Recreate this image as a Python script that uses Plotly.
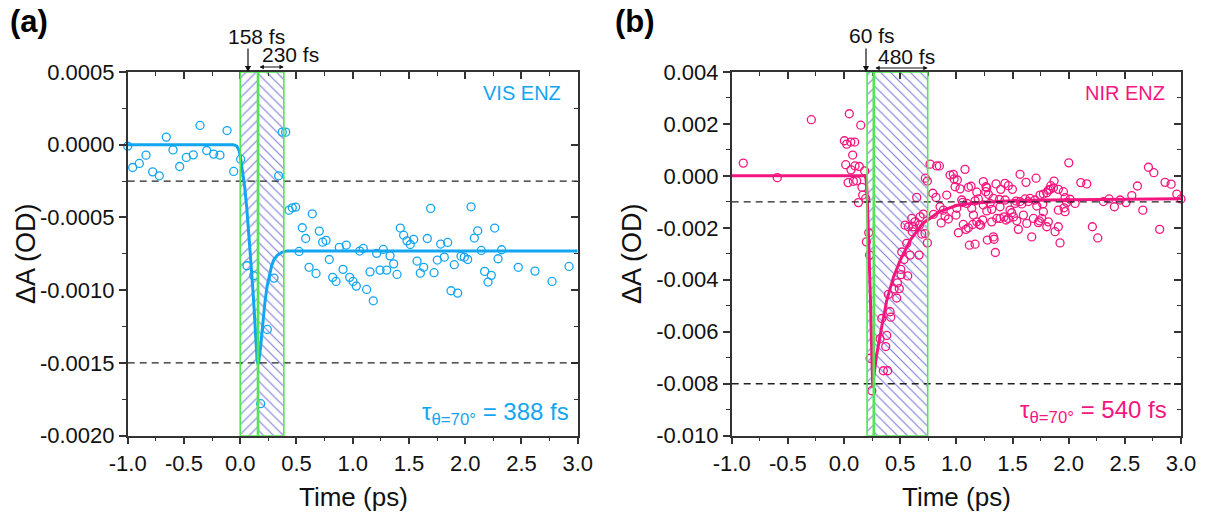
import plotly.graph_objects as go

# ---------------- data ----------------
# Panel (a) VIS ENZ
a_time = [-1.0, -0.956, -0.897, -0.837, -0.778, -0.719, -0.657, -0.597, -0.538, -0.479,
          -0.417, -0.357, -0.298, -0.236, -0.180, -0.117, -0.058, 0.004, 0.060, 0.12,
          0.182, 0.241, 0.30, 0.342, 0.374, 0.404,
          0.434, 0.463, 0.493, 0.523, 0.552, 0.582, 0.612, 0.641, 0.674, 0.703,
          0.733, 0.763, 0.792, 0.822, 0.852, 0.881, 0.914, 0.943, 0.973, 1.003,
          1.032, 1.062, 1.094, 1.124, 1.154, 1.183, 1.213, 1.243, 1.272, 1.302,
          1.332, 1.364, 1.394, 1.423, 1.453, 1.483, 1.512, 1.542, 1.572, 1.601,
          1.631, 1.663, 1.693, 1.723, 1.752, 1.782, 1.814, 1.844, 1.874, 1.903,
          1.933, 1.963, 1.992, 2.022, 2.052, 2.081, 2.111, 2.143, 2.173, 2.203,
          2.232, 2.262, 2.292, 2.324, 2.472, 2.62, 2.772, 2.923]
a_value = [-0.00001, -0.000157, -0.000129, -0.000072, -0.000187, -0.000214, 0.000052, -0.000036, -0.00015, -0.000088,
           -0.00007, 0.000132, -0.00004, -0.000065, -0.000072, 0.000097, -0.000184, -0.0001, -0.000832, -0.0009,
           -0.00178, -0.00127, -0.000917, -0.000214, 0.000086, 0.000086,
           -0.00045, -0.000434, -0.000429, -0.000734, -0.000571, -0.000645, -0.000843, -0.000475, -0.000885, -0.000594,
           -0.00067, -0.000658, -0.000789, -0.000912, -0.00094, -0.000706, -0.000857, -0.00069, -0.000912, -0.00094,
           -0.000972, -0.000731, -0.000713, -0.000995, -0.000874, -0.001073, -0.000747, -0.000862, -0.00072, -0.000862,
           -0.000764, -0.000819, -0.000892, -0.000573, -0.000622, -0.000661, -0.000686, -0.000651, -0.0008, -0.000883,
           -0.000843, -0.000645, -0.000438, -0.00088, -0.000793, -0.000683, -0.000773, -0.000672, -0.001004, -0.000825,
           -0.00102, -0.000766, -0.000773, -0.000789, -0.000427, -0.000642, -0.000592, -0.000727, -0.000871, -0.000944,
           -0.000898, -0.000573, -0.000784, -0.000722, -0.000843, -0.000869, -0.00094, -0.000837]

a_fit_time = [-1.0, -0.06, -0.03, -0.01, 0.005, 0.02, 0.04, 0.06, 0.08, 0.10, 0.12, 0.14, 0.15, 0.158,
              0.165, 0.18, 0.20, 0.22, 0.24, 0.26, 0.28, 0.30, 0.33, 0.37, 0.42, 3.0]
a_fit_value = [0.0, 0.0, -0.00001, -0.00004, -0.0001, -0.00017, -0.00029, -0.00045, -0.00063, -0.00086,
               -0.00108, -0.00141, -0.00148, -0.00151, -0.00149, -0.0014, -0.00122, -0.00108, -0.00097,
               -0.00089, -0.00083, -0.00079, -0.00076, -0.00074, -0.00073, -0.00073]

a_regions = [0.0, 0.158, 0.388]       # edges of hatched windows (ps)
a_levels = [-0.00025, -0.0015]        # dashed reference levels
a_yticks = [0.0005, 0.0, -0.0005, -0.001, -0.0015, -0.002]
a_yticktext = ["0.0005", "0.0000", "-0.0005", "-0.0010", "-0.0015", "-0.0020"]

# Panel (b) NIR ENZ
b_time = [-0.897, -0.594, -0.291, 0.003, 0.015, 0.024, 0.036, 0.047, 0.060, 0.062,
          0.077, 0.083, 0.095, 0.098, 0.113, 0.128, 0.136, 0.149, 0.160, 0.166,
          0.184, 0.193, 0.199, 0.22, 0.228, 0.232, 0.247, 0.321, 0.336, 0.35,
          0.371, 0.380, 0.389, 0.395, 0.41, 0.416, 0.445, 0.469, 0.475, 0.492,
          0.505, 0.508, 0.514, 0.534, 0.543, 0.558, 0.567, 0.573, 0.588, 0.603,
          0.608, 0.617, 0.632, 0.647, 0.668, 0.671, 0.677, 0.692, 0.706, 0.721,
          0.724, 0.742, 0.742, 0.766, 0.79, 0.797, 0.819, 0.825, 0.849, 0.855,
          0.865, 0.884, 0.899, 0.914, 0.929, 0.944, 0.973, 0.98, 0.989, 0.997,
          1.004, 1.009, 1.018, 1.033, 1.048, 1.057, 1.062, 1.077, 1.086, 1.093,
          1.107, 1.107, 1.116, 1.131, 1.137, 1.146, 1.152, 1.167, 1.167, 1.182,
          1.182, 1.196, 1.205, 1.217, 1.235, 1.24, 1.24, 1.262, 1.264, 1.271,
          1.271, 1.276, 1.285, 1.30, 1.315, 1.315, 1.33, 1.33, 1.336, 1.347,
          1.353, 1.36, 1.383, 1.389, 1.389, 1.395, 1.425, 1.433, 1.434, 1.442,
          1.463, 1.463, 1.478, 1.493, 1.499, 1.508, 1.523, 1.532, 1.538, 1.552,
          1.567, 1.567, 1.582, 1.597, 1.612, 1.62, 1.627, 1.641, 1.656, 1.671,
          1.686, 1.70, 1.71, 1.716, 1.73, 1.739, 1.745, 1.76, 1.769, 1.775,
          1.775, 1.805, 1.805, 1.819, 1.819, 1.834, 1.841, 1.864, 1.87, 1.879,
          1.908, 1.908, 1.908, 1.923, 1.953, 1.959, 1.968, 1.968, 1.983, 2.001,
          2.012, 2.057, 2.108, 2.161, 2.211, 2.259, 2.309, 2.36, 2.407, 2.458,
          2.511, 2.562, 2.612, 2.66, 2.71, 2.758, 2.81, 2.858, 2.912, 2.963, 3.0]
b_value = [0.00049, -0.00007, 0.00216, 0.00135, 0.00043, 0.00122, -0.00026, 0.00239, 0.0013, 0.00023,
           0.0008, -0.00021, 0.0013, 0.00038, -0.00019, -0.00103, 0.00036, 0.00195, -0.00044, -0.00074,
           0.00019, -0.00087, -0.00254, -0.00219, -0.00305, -0.00702, -0.00827, -0.00627, -0.00549, -0.0075,
           -0.00657, -0.00614, -0.0075, -0.00456, -0.00523, -0.00544, -0.00435, -0.0047, -0.00412, -0.00434,
           -0.0036, -0.0038, -0.00293, -0.00322, -0.0019, -0.0026, -0.00385, -0.00196, -0.00305, -0.00164,
           -0.00215, -0.00196, -0.00177, -0.00083, -0.00305, -0.0019, -0.00158, -0.00224, -0.00147, -0.00222,
           -0.00009, -0.0002, -0.00258, 0.00045, -0.00067, -0.00148, -0.00083, 0.00038, 0.00038, -0.00119,
           -0.00181, -0.00132, -0.00155, -0.00074, -0.00166, 0.00003, 0.00006, -0.00012, -0.00042, -0.00151,
           -0.00125, -0.00016, -0.00219, -0.0005, -0.00093, -0.00102, -0.00187, 0.00025, -0.00206, -0.00106,
           -0.00044, -0.002, -0.00267, -0.0004, -0.00125, -0.00187, -0.00151, -0.00096, -0.00263, -0.00063,
           -0.00177, -0.00089, -0.00187, -0.0019, -0.0017, -0.00022, -0.00112, -0.00061, -0.00042, -0.00046,
           -0.00135, -0.00247, -0.00071, -0.00106, -0.00177, -0.00129, -0.00235, -0.00087, -0.00244, -0.00295,
           -0.00031, -0.00164, -0.00091, -0.00119, -0.00164, -0.00052, -0.00158, -0.00029, -0.00093, -0.0017,
           -0.00038, -0.00164, -0.00132, -0.00142, -0.00052, -0.00158, -0.00106, -0.00097, -0.00173, -0.00206,
           0.00006, -0.00099, -0.00108, -0.00151, -0.00089, -0.00025, -0.00183, -0.00099, -0.00087, -0.00235,
           -0.00164, -0.00093, -0.00009, -0.00116, -0.0018, -0.00173, -0.00074, -0.00164, -0.00108, -0.0007,
           -0.00138, -0.00065, -0.00196, -0.00177, -0.00055, -0.00052, -0.00038, -0.00046, -0.0002, -0.00215,
           -0.00052, -0.00196, -0.00132, -0.00258, -0.00061, -0.00123, -0.00138, -0.00084, -0.00102, 0.0005,
           -0.0009, -0.00106, -0.00026, -0.00031, -0.00196, -0.00239, -0.00099, -0.00089, -0.00119, -0.00093,
           -0.00103, -0.00076, -0.00039, -0.00132, 0.00033, 0.00012, -0.00206, -0.00025, -0.00032, -0.0007, -0.00089]

b_fit_time = [-1.0, 0.185, 0.195, 0.202, 0.208, 0.215, 0.225, 0.235, 0.245, 0.255, 0.265, 0.29, 0.336,
              0.38, 0.44, 0.50, 0.59, 0.70, 0.85, 1.0, 1.15, 1.4, 1.8, 2.3, 3.0]
b_fit_value = [0.0, 0.0, -0.0001, -0.0004, -0.001, -0.0018, -0.0031, -0.0047, -0.0065, -0.0081, -0.0077,
               -0.0069, -0.0058, -0.0048, -0.0039, -0.00325, -0.00247, -0.00183, -0.00138, -0.00114,
               -0.00105, -0.00098, -0.00093, -0.0009, -0.00088]

b_regions = [0.205, 0.265, 0.745]
b_levels = [-0.001, -0.008]
b_yticks = [0.004, 0.002, 0.0, -0.002, -0.004, -0.006, -0.008, -0.010]
b_yticktext = ["0.004", "0.002", "0.000", "-0.002", "-0.004", "-0.006", "-0.008", "-0.010"]

x_ticks = [-1.0, -0.5, 0.0, 0.5, 1.0, 1.5, 2.0, 2.5, 3.0]
x_ticktext = ["-1.0", "-0.5", "0.0", "0.5", "1.0", "1.5", "2.0", "2.5", "3.0"]

# ---------------- style ----------------
W, H = 1208, 514
FONT = "Liberation Sans"
BLUE = "#12a6f2"
PINK = "#f5157f"
GREEN = "#4fe84f"
HATCH = "rgba(85,85,210,0.75)"
AXC = "#333333"
TXT = "#111111"


def px_x(p):
    return p / W


def px_y(p):
    return 1 - p / H


fig = go.Figure()

panels = [
    dict(xa="x", ya="y", xo="x3", yo="y3", t=a_time, v=a_value, ft=a_fit_time, fv=a_fit_value,
         reg=a_regions, lev=a_levels, yr=[-0.002, 0.0005], yt=a_yticks, ytt=a_yticktext, ydt=0.00025,
         col=BLUE, xd=[127.7, 577.7]),
    dict(xa="x2", ya="y2", xo="x4", yo="y4", t=b_time, v=b_value, ft=b_fit_time, fv=b_fit_value,
         reg=b_regions, lev=b_levels, yr=[-0.010, 0.004], yt=b_yticks, ytt=b_yticktext, ydt=0.001,
         col=PINK, xd=[731.7, 1181.0]),
]

ydom = [px_y(435.7), px_y(71.9)]

for i, p in enumerate(panels):
    y0, y1 = p["yr"]
    r = p["reg"]
    # hatched windows
    for (e0, e1, shp) in [(r[0], r[1], "/"), (r[1], r[2], "\\")]:
        fig.add_trace(go.Scatter(
            x=[e0, e1, e1, e0, e0], y=[y0, y0, y1, y1, y0], xaxis=p["xa"], yaxis=p["ya"],
            mode="lines", line=dict(width=0), fill="toself", fillcolor="rgba(0,0,0,0)",
            fillpattern=dict(shape=shp, fgcolor=HATCH, bgcolor="rgba(0,0,0,0)", size=7,
                             solidity=0.17, fillmode="replace"),
            showlegend=False, hoverinfo="skip"))
    # data
    fig.add_trace(go.Scatter(
        x=p["t"], y=p["v"], xaxis=p["xa"], yaxis=p["ya"], mode="markers",
        marker=dict(symbol="circle-open", size=8, color=p["col"], line=dict(width=1.3, color=p["col"])),
        showlegend=False, cliponaxis=False))
    # fit
    fig.add_trace(go.Scatter(
        x=p["ft"], y=p["fv"], xaxis=p["xa"], yaxis=p["ya"], mode="lines",
        line=dict(color=p["col"], width=3), showlegend=False))
    # dummy for overlay axes
    fig.add_trace(go.Scatter(x=[None], y=[None], xaxis=p["xo"], yaxis=p["yo"], showlegend=False,
                             hoverinfo="skip"))

    # dashed levels
    for lv in p["lev"]:
        fig.add_shape(type="line", xref=p["xa"], yref=p["ya"], x0=-1, x1=3, y0=lv, y1=lv,
                      line=dict(color="#222222", width=1.3, dash="7px,5px"))
    # green frames
    fig.add_shape(type="rect", xref=p["xa"], yref=p["ya"], x0=r[0], x1=r[2], y0=y0, y1=y1,
                  line=dict(color=GREEN, width=1.6))
    fig.add_shape(type="line", xref=p["xa"], yref=p["ya"], x0=r[1], x1=r[1], y0=y0, y1=y1,
                  line=dict(color=GREEN, width=2.6))

    xdom = [px_x(p["xd"][0]), px_x(p["xd"][1])]
    n = "" if i == 0 else "2"
    no = "3" if i == 0 else "4"
    tickfont = dict(family=FONT, size=22, color=TXT)
    common = dict(showgrid=False, zeroline=False, automargin=False, showline=True, linecolor=AXC,
                  linewidth=1.5, tickwidth=1.5, tickcolor=AXC, ticklen=7)
    fig.update_layout(**{
        "xaxis" + n: dict(domain=xdom, range=[-1, 3], anchor="y" + n, tickmode="array", tickvals=x_ticks,
                          ticktext=x_ticktext, ticks="outside", tickfont=tickfont,
                          minor=dict(ticks="outside", ticklen=4, tickwidth=1.3, tickcolor=AXC,
                                     tickmode="linear", tick0=-1, dtick=0.25, showgrid=False), **common),
        "yaxis" + n: dict(domain=ydom, range=p["yr"], anchor="x" + n, tickmode="array", tickvals=p["yt"],
                          ticktext=p["ytt"], ticks="outside", tickfont=tickfont,
                          minor=dict(ticks="outside", ticklen=4, tickwidth=1.3, tickcolor=AXC,
                                     tickmode="linear", tick0=0, dtick=p["ydt"], showgrid=False), **common),
        "xaxis" + no: dict(domain=xdom, range=[-1, 3], anchor="y" + no, overlaying="x" + n, side="top",
                           tickmode="array", tickvals=x_ticks, ticks="inside", showticklabels=False,
                           minor=dict(ticks="inside", ticklen=4, tickwidth=1.3, tickcolor=AXC,
                                      tickmode="linear", tick0=-1, dtick=0.25, showgrid=False), **common),
        "yaxis" + no: dict(domain=ydom, range=p["yr"], anchor="x" + no, overlaying="y" + n, side="right",
                           tickmode="array", tickvals=p["yt"], ticks="inside", showticklabels=False,
                           minor=dict(ticks="inside", ticklen=4, tickwidth=1.3, tickcolor=AXC,
                                      tickmode="linear", tick0=0, dtick=p["ydt"], showgrid=False), **common),
    })

ann = []
tf = dict(family=FONT, size=21, color=TXT)


def label(text, x, y, font, xanchor="center", **kw):
    ann.append(dict(text=text, x=px_x(x), y=px_y(y), xref="paper", yref="paper", showarrow=False,
                    xanchor=xanchor, yanchor="middle", font=font, **kw))


# axis titles
for cx in [353, 956]:
    label("Time (ps)", cx, 497, dict(family=FONT, size=26, color=TXT))
for cx in [26, 632]:
    label("ΔA (OD)", cx, 254, dict(family=FONT, size=27, color=TXT), textangle=-90)
# panel letters
label("<b>(a)</b>", 29, 22, dict(family=FONT, size=31, color="black"))
label("<b>(b)</b>", 635, 22, dict(family=FONT, size=31, color="black"))
# labels
label("VIS ENZ", 563, 93, dict(family=FONT, size=20, color=BLUE), xanchor="right")
label("NIR ENZ", 1167, 93, dict(family=FONT, size=20, color=PINK), xanchor="right")
label("τ<sub>θ=70°</sub> = 388 fs", 571, 413, dict(family=FONT, size=24, color=BLUE), xanchor="right")
label("τ<sub>θ=70°</sub> = 540 fs", 1169, 411, dict(family=FONT, size=24, color=PINK), xanchor="right")
# duration labels
label("158 fs", 256, 37, tf)
label("230 fs", 290, 55, tf)
label("60 fs", 872, 36, tf)
label("480 fs", 906, 56, tf)
# down arrows
ann.append(dict(x=px_x(248), y=px_y(72), xref="paper", yref="paper", ax=0, ay=-25, showarrow=True,
                arrowhead=2, arrowsize=1, arrowwidth=1.2, arrowcolor=TXT, text=""))
ann.append(dict(x=px_x(866), y=px_y(72), xref="paper", yref="paper", ax=0, ay=-25, showarrow=True,
                arrowhead=2, arrowsize=1, arrowwidth=1.2, arrowcolor=TXT, text=""))
# double arrows (horizontal, from middle line to right edge of the window)
ann.append(dict(x=a_regions[2], y=px_y(67), xref="x", yref="paper", ax=a_regions[1], ay=0,
                axref="x", ayref="pixel", showarrow=True, arrowhead=2, startarrowhead=2, arrowside="end+start",
                arrowsize=0.8, arrowwidth=1.1, arrowcolor=TXT, text=""))
ann.append(dict(x=b_regions[2], y=px_y(68), xref="x2", yref="paper", ax=b_regions[1], ay=0,
                axref="x2", ayref="pixel", showarrow=True, arrowhead=2, startarrowhead=2, arrowside="end+start",
                arrowsize=0.8, arrowwidth=1.1, arrowcolor=TXT, text=""))

fig.update_layout(width=W, height=H, autosize=False, margin=dict(l=0, r=0, t=0, b=0, pad=0),
                  paper_bgcolor="white", plot_bgcolor="white", showlegend=False, annotations=ann,
                  font=dict(family=FONT))

fig.write_html("out.html", config={"displayModeBar": False},
               post_script="document.body.style.margin='0px';")
